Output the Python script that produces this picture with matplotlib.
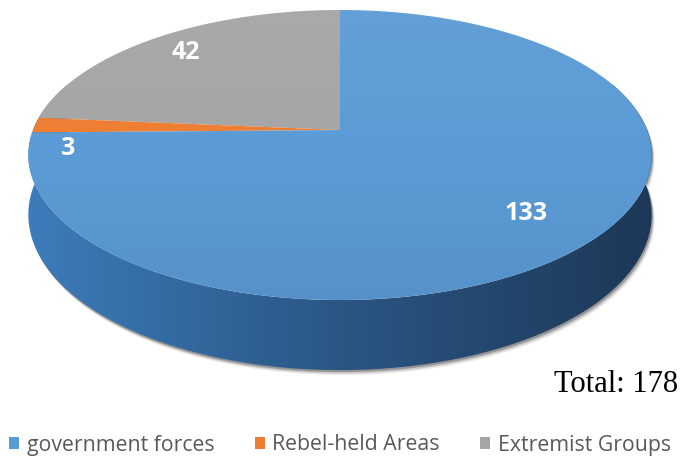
import numpy as np
import matplotlib.pyplot as plt
from matplotlib.patches import Polygon, Patch
from matplotlib.colors import to_rgb

# Data
categories = ["government forces", "Rebel-held Areas", "Extremist Groups"]
values = [133, 3, 42]
colors = ["#5b9bd5", "#ed7d31", "#a5a5a5"]
total_text = "Total: 178"

# slices go counter-clockwise from 12 o'clock in this order
order = [2, 1, 0]
label_r = {0: 0.77, 1: 0.89, 2: 0.82}
label_dy = {0: 0, 1: 23, 2: 0}

# Pie geometry (pixels), simple perspective tilt
cx, cy = 340, 130
A, B, k = 307, 140.7, 0.1724
depth = 58


def project(theta, r=1.0, z=0.0):
    u = r * np.cos(theta)
    v = r * np.sin(theta)
    w = 1 + k * v
    return cx + A * u / w, cy - B * v / w + z / w


fig = plt.figure(figsize=(6.8, 4.59), dpi=100)
ax = fig.add_axes([0, 0, 1, 1])
ax.set_xlim(0, 680)
ax.set_ylim(459, 0)
ax.axis("off")

# side wall (front half)
th = np.radians(np.linspace(160, 380, 300))
tx, ty = project(th)
bx, by = project(th, z=depth)
side_xy = np.column_stack([np.r_[tx, bx[::-1]], np.r_[ty, by[::-1]]])

# soft shadow
for off, a in [(5, 0.08), (3.5, 0.15), (2, 0.25)]:
    ax.add_patch(Polygon(side_xy + [off * 0.6, off], closed=True,
                         fc="black", ec="none", alpha=a))

side = Polygon(side_xy, closed=True, fc="none", ec="none")
ax.add_patch(side)
c0, c1, c2 = np.array(to_rgb("#3f7fc0")), np.array(to_rgb("#2a5684")), np.array(to_rgb("#1c3553"))
t = np.linspace(0, 1, 680)[None, :, None]
grad = np.where(t < 0.5, c0 + (c1 - c0) * (t / 0.5), c1 + (c2 - c1) * ((t - 0.5) / 0.5))
grad = np.repeat(grad, 2, axis=0)
im = ax.imshow(grad, extent=(0, 680, 459, 0), origin="upper", aspect="auto", zorder=1)
im.set_clip_path(side)

# top surface
total = sum(values)
start = 90.0
mids = {}
for i in order:
    span = 360.0 * values[i] / total
    arc = np.radians(np.linspace(start, start + span, 200))
    ax_, ay_ = project(arc)
    pts = np.column_stack([np.r_[cx, ax_], np.r_[cy, ay_]])
    ax.add_patch(Polygon(pts, closed=True, fc=colors[i], ec="none", zorder=2))
    mids[i] = np.radians(start + span / 2)
    start += span

# light shading on the top face
full = np.radians(np.linspace(0, 360, 400))
fx, fy = project(full)
top = Polygon(np.column_stack([fx, fy]), closed=True, fc="none", ec="none")
ax.add_patch(top)
s = np.linspace(0, 1, 459)[:, None]
shade = np.zeros((459, 2, 4))
shade[..., :3] = np.where(s[..., None] < 0.35, 1.0, 0.0)
shade[..., 3] = np.where(s < 0.35, (0.35 - s) * 0.15, (s - 0.35) * 0.2)
im2 = ax.imshow(shade, extent=(0, 680, 459, 0), origin="upper", aspect="auto", zorder=3)
im2.set_clip_path(top)

# value labels
for i in order:
    lx, ly = project(mids[i], r=label_r[i])
    ax.text(lx, ly + label_dy[i], str(values[i]), color="white", fontsize=18,
            fontweight="bold", family="Open Sans", ha="center", va="center", zorder=5)

ax.text(678, 385, total_text, family="Liberation Serif", fontsize=22,
        ha="right", va="center", color="black")

handles = [Patch(fc=c, ec="none") for c in colors]
fig.legend(handles, categories, loc="center", bbox_to_anchor=(0.5, 14 / 459),
           ncol=3, frameon=False, prop={"family": "Open Sans", "size": 15.3},
           labelcolor="#595959", handlelength=0.47, handleheight=0.47,
           handletextpad=0.35, columnspacing=1.9)

fig.savefig("out.png", dpi=100)
